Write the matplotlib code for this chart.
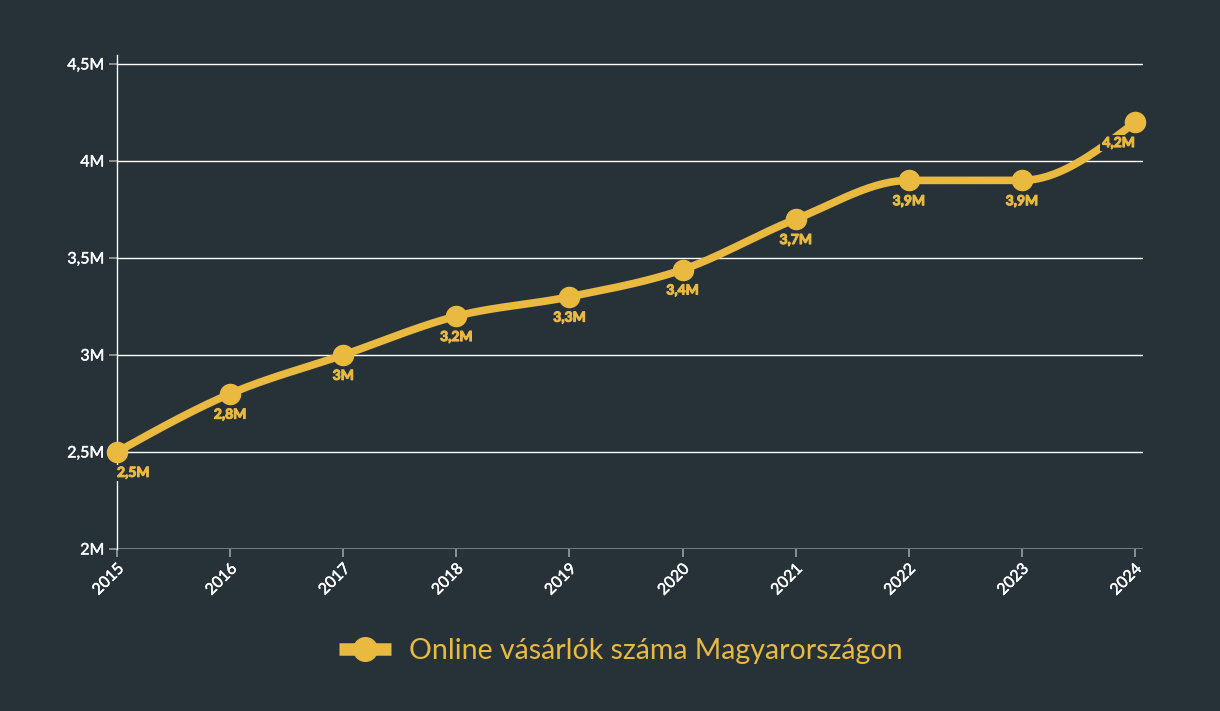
import numpy as np
import matplotlib
matplotlib.use("Agg")
import matplotlib.pyplot as plt
from matplotlib.lines import Line2D
import matplotlib.patheffects as pe

years = [2015, 2016, 2017, 2018, 2019, 2020, 2021, 2022, 2023, 2024]
values = [2.5, 2.8, 3.0, 3.2, 3.3, 3.44, 3.7, 3.9, 3.9, 4.2]
labels = ["2,5M", "2,8M", "3M", "3,2M", "3,3M", "3,4M", "3,7M", "3,9M", "3,9M", "4,2M"]
yticks = [2, 2.5, 3, 3.5, 4, 4.5]
ytick_labels = ["2M", "2,5M", "3M", "3,5M", "4M", "4,5M"]
series_name = "Online vásárlók száma Magyarországon"

BG = "#263238"
YEL = "#E9B940"
FONT = ["Lato", "DejaVu Sans"]
plt.rcParams['font.family'] = FONT


def monotone_curve(x, y, n=40):
    x = np.asarray(x, float); y = np.asarray(y, float)
    h = np.diff(x); d = np.diff(y) / h
    m = np.zeros_like(y)
    for i in range(1, len(y) - 1):
        if d[i - 1] * d[i] <= 0:
            m[i] = 0
        else:
            s = (d[i - 1] * h[i] + d[i] * h[i - 1]) / (h[i - 1] + h[i])
            m[i] = (np.sign(d[i - 1]) + np.sign(d[i])) * min(abs(d[i - 1]), abs(d[i]), 0.5 * abs(s))
    m[0] = (3 * d[0] - m[1]) / 2
    m[-1] = (3 * d[-1] - m[-2]) / 2
    xs, ys = [], []
    for i in range(len(x) - 1):
        t = np.linspace(0, 1, n)
        h00 = 2 * t**3 - 3 * t**2 + 1
        h10 = t**3 - 2 * t**2 + t
        h01 = -2 * t**3 + 3 * t**2
        h11 = t**3 - t**2
        xs.append(x[i] + t * h[i])
        ys.append(h00 * y[i] + h10 * h[i] * m[i] + h01 * y[i + 1] + h11 * h[i] * m[i + 1])
    return np.concatenate(xs), np.concatenate(ys)


fig = plt.figure(figsize=(12.2, 7.11), dpi=100, facecolor=BG)
ax = fig.add_axes([117 / 1220, 1 - 549 / 711, (1143 - 117) / 1220, (549 - 55) / 711])
ax.set_facecolor(BG)

ax.set_xlim(2015, 2024 + 8 / 113.1)
ax.set_ylim(2, 4.5 + 9 / 194)

ax.set_yticks(yticks)
ax.set_yticklabels(ytick_labels)
ax.set_xticks(years)
ax.set_xticklabels([str(y) for y in years], rotation=45, ha="right", rotation_mode="anchor")
ax.tick_params(axis="both", colors="#9e9e9e", labelcolor="white", labelsize=11.5, length=6, width=1.2)
ax.tick_params(axis="x", pad=3)
ax.tick_params(axis="y", pad=3)
tick_pe = [pe.Stroke(linewidth=0.3, foreground="white"), pe.Normal()]
for lab in ax.get_xticklabels() + ax.get_yticklabels():
    lab.set_color("white")
    lab.set_fontsize(11.5)
    lab.set_path_effects(tick_pe)

ax.grid(axis="y", color="white", linewidth=1)
ax.set_axisbelow(True)
for s in ["top", "right", "bottom"]:
    ax.spines[s].set_visible(False)
ax.spines["left"].set_color("white")
ax.spines["left"].set_linewidth(1)
ax.axhline(2, color="white", linewidth=1, zorder=1)

cx, cy = monotone_curve(years, values)
ax.plot(cx, cy, color=YEL, linewidth=5.5, solid_capstyle="round", zorder=3, clip_on=False)
ax.plot(years, values, linestyle="none", marker="o", markersize=14.5, color=YEL, zorder=4, clip_on=False)

lab_pe = [pe.Stroke(linewidth=0.8, foreground=YEL), pe.Normal()]
for i, (x, v, lab) in enumerate(zip(years, values, labels)):
    ha = "center"
    if i == 0:
        ha = "left"
    elif i == len(years) - 1:
        ha = "right"
    t = ax.annotate(lab, (x, v), xytext=(0, -15), textcoords="offset points", ha=ha, va="center",
                    fontsize=10, fontweight="bold", color=YEL, zorder=5,
                    bbox=dict(boxstyle="square,pad=0.15", fc=BG, ec="none"))
    t.set_path_effects(lab_pe)

handle = Line2D([0], [0], color=YEL, linewidth=9, marker="o", markersize=17, solid_capstyle="butt")
fig.legend([handle], [series_name], loc="center", bbox_to_anchor=(621 / 1220, 1 - 651 / 711),
           frameon=False, fontsize=20.5, labelcolor=YEL, handlelength=1.8, handletextpad=0.65)

fig.savefig("out.png", dpi=100, facecolor=BG)
